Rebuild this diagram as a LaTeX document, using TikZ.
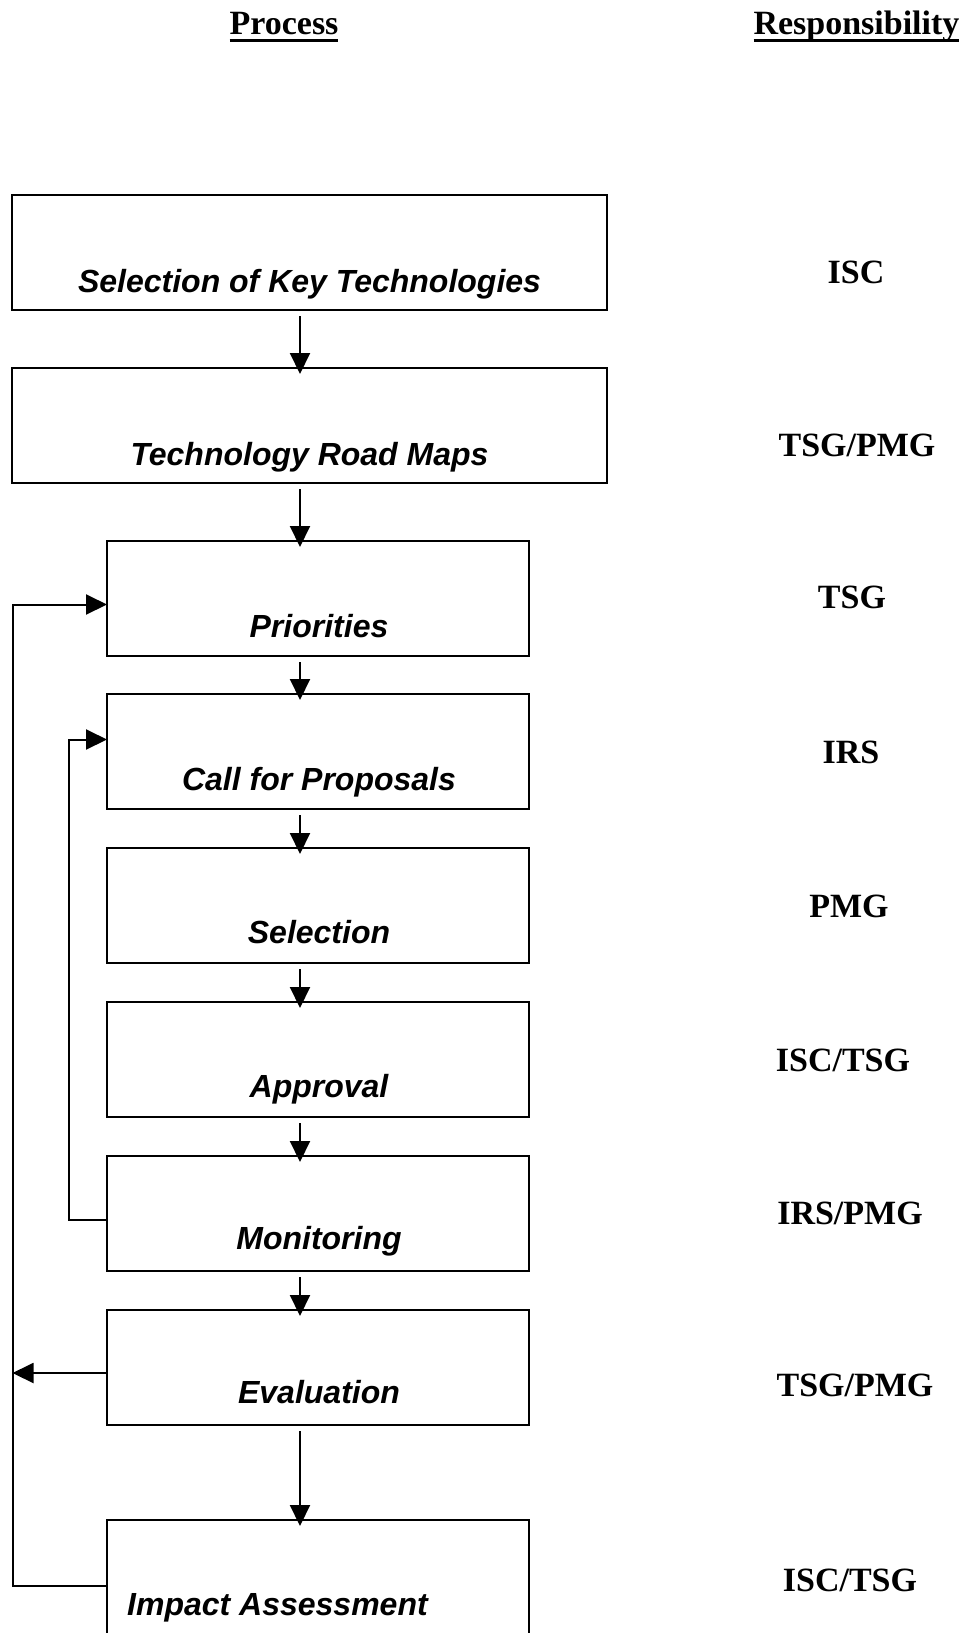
\documentclass[tikz,border=0pt]{standalone}
\usepackage{fontspec}
\setmainfont{Liberation Serif}
\newfontfamily\arialf{Liberation Sans}
\usetikzlibrary{arrows.meta}
\newcommand\ulhead[1]{\setbox0\hbox{#1}\rlap{\raisebox{-7pt}{\rule{\wd0}{3pt}}}\box0}
\tikzset{
  procbox/.style={draw=black, line width=2pt, rectangle, inner sep=0pt, outer sep=0pt, anchor=north west, minimum height=115pt},
  bigbox/.style={procbox, minimum width=595pt},
  smallbox/.style={procbox, minimum width=422pt},
  proctext/.style={anchor=base, inner sep=0pt, font=\arialf\bfseries\itshape\fontsize{32}{38}\selectfont},
  resptext/.style={anchor=base, inner sep=0pt, font=\bfseries\fontsize{34}{40}\selectfont},
  arr/.style={line width=2pt, -{Triangle[length=21pt,width=20pt]}},
  downarr/.style={arr, shorten <=6pt, shorten >=-6pt}
}
\begin{document}
\begin{tikzpicture}[x=1pt,y=-1pt]
\useasboundingbox (0,0) rectangle (969,1633);
\clip (0,0) rectangle (969,1633);
% headers
\node[resptext] (hproc) at (284,34.5) {\ulhead{Process}};
\node[resptext] (hresp) at (856.5,34.5) {\ulhead{Responsibility}};
% boxes
\node[bigbox] (b1) at (11.5,195) {};
\node[bigbox] (b2) at (11.5,368) {};
\node[smallbox] (b3) at (107,541) {};
\node[smallbox] (b4) at (107,694) {};
\node[smallbox] (b5) at (107,848) {};
\node[smallbox] (b6) at (107,1002) {};
\node[smallbox] (b7) at (107,1156) {};
\node[smallbox] (b8) at (107,1310) {};
\node[procbox, minimum width=422pt, minimum height=125pt] (b9) at (107,1520) {};
% box texts
\node[proctext] (t1) at (309.5,292) {Selection of Key Technologies};
\node[proctext] (t2) at (309.5,465) {Technology Road Maps};
\node[proctext] (t3) at (319,637) {Priorities};
\node[proctext] (t4) at (319,790) {Call for Proposals};
\node[proctext] (t5) at (319,943) {Selection};
\node[proctext] (t6) at (319,1097) {Approval};
\node[proctext] (t7) at (319,1249) {Monitoring};
\node[proctext] (t8) at (319,1403) {Evaluation};
\node[proctext, anchor=base west] (t9) at (127,1615) {Impact Assessment};
% responsibilities
\node[resptext] (r1) at (856,283) {ISC};
\node[resptext] (r2) at (857,456) {TSG/PMG};
\node[resptext] (r3) at (852,608.5) {TSG};
\node[resptext] (r4) at (851,763) {IRS};
\node[resptext] (r5) at (849,917) {PMG};
\node[resptext] (r6) at (843,1071) {ISC/TSG};
\node[resptext] (r7) at (850,1224) {IRS/PMG};
\node[resptext] (r8) at (855,1396) {TSG/PMG};
\node[resptext] (r9) at (850,1591) {ISC/TSG};
% helper coordinates
\coordinate (ax) at (300,0);
\coordinate (ox) at (12.5,0);
\coordinate (ix) at (69,0);
% vertical arrows
\draw[downarr] (b1.south -| ax) -- (b2.north -| ax);
\draw[downarr] (b2.south -| ax) -- (b3.north -| ax);
\draw[downarr] (b3.south -| ax) -- (b4.north -| ax);
\draw[downarr] (b4.south -| ax) -- (b5.north -| ax);
\draw[downarr] (b5.south -| ax) -- (b6.north -| ax);
\draw[downarr] (b6.south -| ax) -- (b7.north -| ax);
\draw[downarr] (b7.south -| ax) -- (b8.north -| ax);
\draw[downarr] (b8.south -| ax) -- (b9.north -| ax);
% feedback loops
\draw[arr] ([yshift=-3pt]b9.west) coordinate (s9) -- (s9 -| ox) |- ([yshift=-6pt]b3.west);
\draw[arr] ([yshift=-5.5pt]b8.west) coordinate (s8) -- (s8 -| ox);
\draw[arr] ([yshift=-6pt]b7.west) coordinate (s7) -- (s7 -| ix) |- ([yshift=12pt]b4.west);
\end{tikzpicture}
\end{document}
